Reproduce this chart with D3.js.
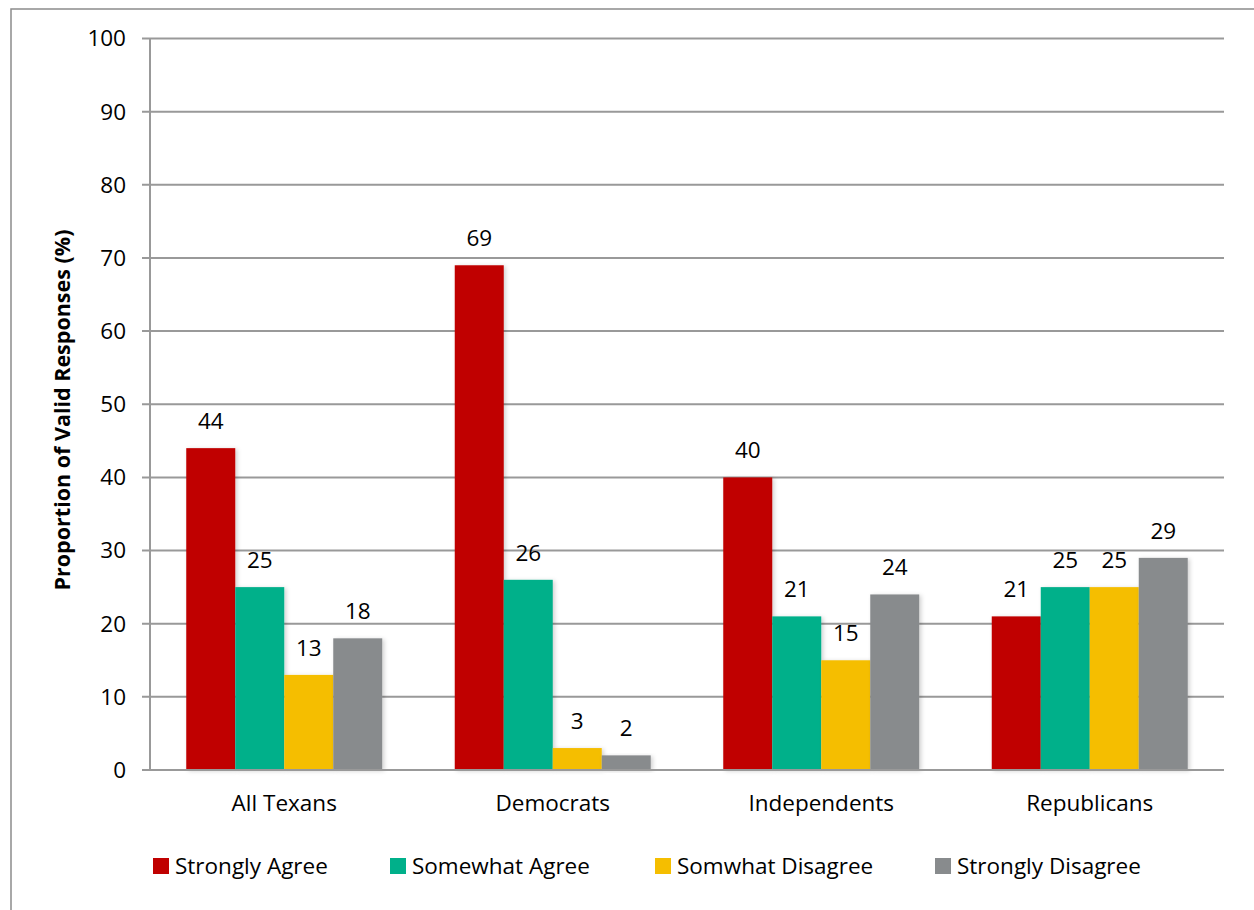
<!DOCTYPE html>
<html>
<head>
<meta charset="utf-8">
<script src="https://cdn.jsdelivr.net/npm/d3@7"></script>
<style>
  body { margin: 0; background: #fff; }
  svg { display: block; font-family: "Open Sans", "Noto Sans", sans-serif; }
</style>
</head>
<body>
<div id="chart"></div>
<script>
// Data
const groups = ["All Texans", "Democrats", "Independents", "Republicans"];
const seriesNames = ["Strongly Agree", "Somewhat Agree", "Somwhat Disagree", "Strongly Disagree"];
const stronglyAgree = [44, 69, 40, 21];
const somewhatAgree = [25, 26, 21, 25];
const somwhatDisagree = [13, 3, 15, 25];
const stronglyDisagree = [18, 2, 24, 29];
const yTicks = [0, 10, 20, 30, 40, 50, 60, 70, 80, 90, 100];

const seriesValues = [stronglyAgree, somewhatAgree, somwhatDisagree, stronglyDisagree];
const colors = ["#C00000", "#00B08A", "#F5BE00", "#888B8D"];

const width = 1254, height = 910;
const margin = {top: 38.5, right: 30, bottom: 140, left: 150};
const innerW = 1224 - margin.left;
const innerH = 770 - margin.top;
const fs = 22.5;

const svg = d3.select("#chart").append("svg")
    .attr("width", width)
    .attr("height", height);

// shadow for bars
const defs = svg.append("defs");
const filt = defs.append("filter").attr("id", "shadow")
    .attr("x", "-10%").attr("y", "-10%").attr("width", "130%").attr("height", "130%");
filt.append("feDropShadow")
    .attr("dx", 2).attr("dy", 1).attr("stdDeviation", 2)
    .attr("flood-color", "#000").attr("flood-opacity", 0.18);

// outer frame
svg.append("rect")
    .attr("x", 11).attr("y", 9)
    .attr("width", 1260).attr("height", 920)
    .attr("fill", "none")
    .attr("stroke", "#8c8c8c")
    .attr("stroke-width", 1.5);

const g = svg.append("g")
    .attr("transform", "translate(" + margin.left + "," + margin.top + ")");

const x0 = d3.scaleBand().domain(groups).range([0, innerW]);
const x1 = d3.scaleBand().domain(seriesNames).range([0, 196]);
const y = d3.scaleLinear().domain([0, 100]).range([innerH, 0]);

// gridlines
g.selectAll(".grid").data(yTicks).enter().append("line")
    .attr("class", "grid")
    .attr("x1", -8).attr("x2", innerW)
    .attr("y1", d => y(d)).attr("y2", d => y(d))
    .attr("stroke", "#999").attr("stroke-width", 2);

// y axis line
g.append("line")
    .attr("x1", 0).attr("x2", 0)
    .attr("y1", 0).attr("y2", innerH)
    .attr("stroke", "#999").attr("stroke-width", 2);

// y tick labels
g.selectAll(".ytick").data(yTicks).enter().append("text")
    .attr("x", -24)
    .attr("y", d => y(d))
    .attr("dy", "0.35em")
    .attr("text-anchor", "end")
    .attr("font-size", fs)
    .attr("fill", "#000")
    .text(d => d);

// bars
const groupSel = g.selectAll(".grp").data(groups).enter().append("g")
    .attr("transform", d => "translate(" + (x0(d) + (x0.bandwidth() - 196) / 2) + ",0)");

groupSel.each(function(grp, gi) {
    const sel = d3.select(this);
    const rows = seriesNames.map((s, si) => ({s: s, si: si, v: seriesValues[si][gi]}));
    sel.selectAll("rect").data(rows).enter().append("rect")
        .attr("x", d => x1(d.s))
        .attr("y", d => y(d.v))
        .attr("width", x1.bandwidth())
        .attr("height", d => innerH - y(d.v))
        .attr("fill", d => colors[d.si])
        .attr("filter", "url(#shadow)");
    sel.selectAll("text").data(rows).enter().append("text")
        .attr("x", d => x1(d.s) + x1.bandwidth() / 2)
        .attr("y", d => y(d.v) - 19)
        .attr("text-anchor", "middle")
        .attr("font-size", fs)
        .text(d => d.v);
});

// redraw baseline over the bars
g.append("line")
    .attr("x1", -8).attr("x2", innerW)
    .attr("y1", innerH).attr("y2", innerH)
    .attr("stroke", "#999").attr("stroke-width", 2);

// category labels
g.selectAll(".xlab").data(groups).enter().append("text")
    .attr("x", d => x0(d) + x0.bandwidth() / 2)
    .attr("y", innerH + 41)
    .attr("text-anchor", "middle")
    .attr("font-size", fs)
    .text(d => d);

// y axis title
svg.append("text")
    .attr("transform", "translate(70,410) rotate(-90)")
    .attr("text-anchor", "middle")
    .attr("font-size", 21.5)
    .attr("font-weight", "bold")
    .text("Proportion of Valid Responses (%)");

// legend
const legendX = [153, 390, 655, 935];
const legend = svg.selectAll(".leg").data(seriesNames).enter().append("g")
    .attr("transform", (d, i) => "translate(" + legendX[i] + ",858)");
legend.append("rect")
    .attr("width", 16).attr("height", 16)
    .attr("fill", (d, i) => colors[i]);
legend.append("text")
    .attr("x", 22).attr("y", 8).attr("dy", "0.35em")
    .attr("font-size", fs)
    .text(d => d);
</script>
</body>
</html>
